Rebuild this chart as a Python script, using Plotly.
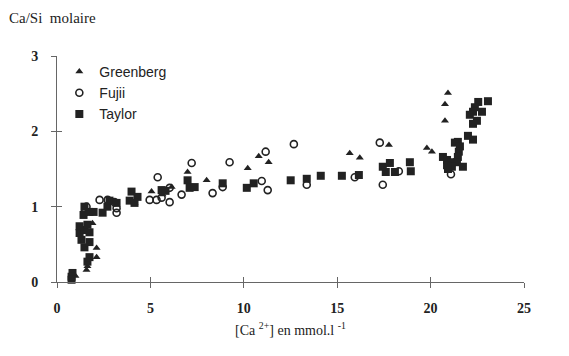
import plotly.graph_objects as go

# Greenberg (triangles)
greenberg_x = [0.99, 1.58, 1.63, 2.12, 2.12, 1.90, 4.15, 5.06, 5.65, 6.14, 6.99, 8.01,
               10.21, 10.80, 11.33, 15.67, 16.21, 17.77, 19.80, 20.07, 20.93, 20.77, 20.77]
greenberg_y = [0.08, 0.16, 0.21, 0.33, 0.45, 0.78, 1.05, 1.20, 1.16, 1.26, 1.46, 1.35,
               1.51, 1.67, 1.59, 1.71, 1.65, 1.82, 1.78, 1.73, 2.51, 2.36, 2.14]

# Fujii (open circles)
fujii_x = [1.58, 1.47, 2.28, 2.71, 3.08, 3.19, 3.19, 4.96, 5.33, 5.60, 6.03, 5.39, 6.03,
           6.67, 7.21, 8.33, 9.24, 8.87, 10.96, 11.17, 11.28, 12.68, 13.37, 15.94,
           17.28, 17.44, 18.30, 21.09]
fujii_y = [1.00, 0.92, 1.09, 1.09, 1.06, 0.98, 0.92, 1.09, 1.09, 1.12, 1.06, 1.39, 1.25,
           1.16, 1.58, 1.18, 1.59, 1.26, 1.34, 1.73, 1.22, 1.83, 1.29, 1.39,
           1.85, 1.29, 1.47, 1.43]

# Taylor (filled squares)
taylor_x = [0.83, 0.78, 0.78, 1.63, 1.74, 1.47, 1.31, 1.74, 1.21, 1.47, 1.74, 1.21, 1.63,
            1.42, 1.74, 1.47, 1.96, 2.44, 2.70, 2.81, 3.19, 3.99, 4.31, 3.89, 4.15,
            5.60, 5.81, 6.99, 7.10, 7.37, 8.87, 10.16, 10.53, 12.51, 13.37, 14.12,
            15.25, 16.16, 17.44, 17.60, 17.82, 18.09, 18.89, 18.94,
            22.55, 23.07, 22.37, 22.27, 22.75, 22.10, 22.48, 22.27, 22.00, 22.27,
            21.46, 21.30, 21.57, 21.51, 21.46, 20.66, 20.88, 21.14, 21.41, 20.88,
            21.14, 20.93, 21.73]
taylor_y = [0.12, 0.07, 0.03, 0.27, 0.33, 0.46, 0.56, 0.53, 0.65, 0.69, 0.66, 0.74, 0.76,
            0.89, 0.93, 1.00, 0.93, 0.92, 1.00, 1.08, 1.05, 1.20, 1.13, 1.08, 1.05,
            1.22, 1.21, 1.35, 1.25, 1.26, 1.31, 1.25, 1.31, 1.35, 1.37, 1.41,
            1.41, 1.42, 1.53, 1.46, 1.58, 1.46, 1.59, 1.47,
            2.39, 2.40, 2.32, 2.26, 2.26, 2.22, 2.14, 2.10, 1.94, 1.89,
            1.86, 1.85, 1.80, 1.73, 1.66, 1.66, 1.62, 1.59, 1.59, 1.55,
            1.53, 1.50, 1.53]

x_ticks = [0, 5, 10, 15, 20, 25]
y_ticks = [0, 1, 2, 3]

ink = "#222222"
axis_col = "#666666"
serif = "Liberation Serif, Times New Roman, serif"
sans = "Liberation Sans, Arial, sans-serif"

fig = go.Figure()
fig.add_trace(go.Scatter(x=greenberg_x, y=greenberg_y, mode="markers", name="Greenberg",
                         marker=dict(symbol="triangle-up", size=7, color=ink),
                         cliponaxis=False))
fig.add_trace(go.Scatter(x=fujii_x, y=fujii_y, mode="markers", name="Fujii",
                         marker=dict(symbol="circle-open", size=7, color=ink,
                                     line=dict(width=1.6, color=ink)),
                         cliponaxis=False))
fig.add_trace(go.Scatter(x=taylor_x, y=taylor_y, mode="markers", name="Taylor",
                         marker=dict(symbol="square", size=8, color=ink),
                         cliponaxis=False))
# invisible trace to activate the overlay axes (inner half of the crossing ticks)
fig.add_trace(go.Scatter(x=[None], y=[None], xaxis="x2", yaxis="y2",
                         showlegend=False, hoverinfo="skip"))

fig.update_layout(
    width=569, height=356,
    margin=dict(l=57, r=45, t=56, b=74),
    paper_bgcolor="white", plot_bgcolor="white",
    showlegend=True,
    legend=dict(x=0.005, y=1.0, xanchor="left", yanchor="top",
                bgcolor="rgba(0,0,0,0)", font=dict(family=sans, size=14, color=ink),
                itemwidth=30, tracegroupgap=0),
    xaxis=dict(range=[0, 25], tickvals=x_ticks, ticks="outside", ticklen=5,
               tickcolor=axis_col, showline=True, linecolor=axis_col, linewidth=1,
               showgrid=False, zeroline=False,
               tickfont=dict(family=serif, size=14, color=ink, weight="bold"),
               ticklabelstandoff=8,
               title=dict(text="[Ca <sup>2+</sup>] en mmol.l <sup>-1</sup>",
                          font=dict(family=serif, size=14, color=ink), standoff=10)),
    yaxis=dict(range=[0, 3], tickvals=y_ticks, ticks="outside", ticklen=5,
               tickcolor=axis_col, showline=True, linecolor=axis_col, linewidth=1,
               showgrid=False, zeroline=False,
               tickfont=dict(family=serif, size=14, color=ink, weight="bold"),
               ticklabelstandoff=10),
    xaxis2=dict(range=[0, 25], tickvals=x_ticks, ticks="inside", ticklen=5,
                tickcolor=axis_col, showticklabels=False, showgrid=False,
                zeroline=False, overlaying="x", matches="x"),
    yaxis2=dict(range=[0, 3], tickvals=y_ticks, ticks="inside", ticklen=5,
                tickcolor=axis_col, showticklabels=False, showgrid=False,
                zeroline=False, overlaying="y", matches="y"),
    annotations=[dict(text="Ca/Si  molaire", xref="paper", yref="paper",
                      x=-0.108, y=1.17, xanchor="left", yanchor="middle",
                      showarrow=False, font=dict(family=serif, size=15, color=ink))],
)

fig.write_html("out.html")
